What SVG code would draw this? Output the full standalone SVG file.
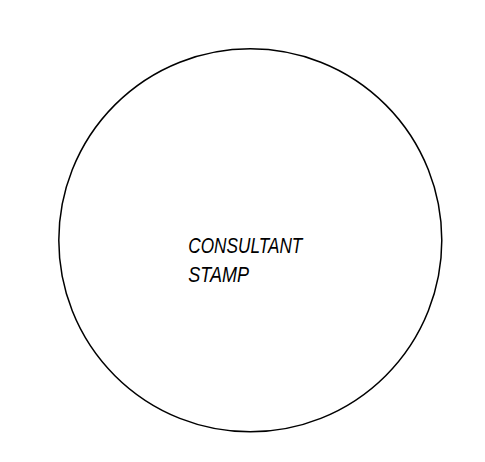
<svg xmlns="http://www.w3.org/2000/svg" width="485" height="462" viewBox="0 0 485 462">
<style>
.lbl{font-family:"Liberation Sans Narrow","Liberation Sans",Arial,sans-serif;font-style:italic;font-size:22px;fill:#000}
</style>
<rect width="485" height="462" fill="#fff"/>
<g id="stamp">
<circle cx="250.3" cy="240.3" r="191.5" fill="none" stroke="#000" stroke-width="1.5"/>
<text class="lbl" x="188.3" y="253.3" textLength="114" lengthAdjust="spacingAndGlyphs">CONSULTANT</text>
<text class="lbl" x="188.3" y="281.7" textLength="60.7" lengthAdjust="spacingAndGlyphs">STAMP</text>
</g>
</svg>
